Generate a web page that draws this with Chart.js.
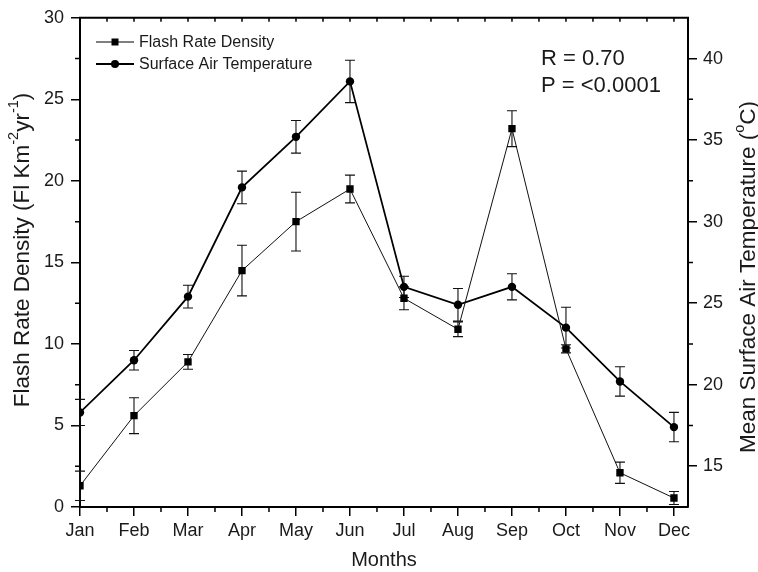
<!DOCTYPE html>
<html>
<head>
<meta charset="utf-8">
<script src="https://cdn.jsdelivr.net/npm/chart.js@4.4.0/dist/chart.umd.min.js"></script>
<style>
  body { margin: 0; background: #fff; }
  canvas { display: block; }
</style>
</head>
<body>
<canvas id="chart" width="758" height="572"></canvas>
<script>
const months = ['Jan', 'Feb', 'Mar', 'Apr', 'May', 'Jun', 'Jul', 'Aug', 'Sep', 'Oct', 'Nov', 'Dec'];
const flashRate = [1.3, 5.6, 8.9, 14.5, 17.5, 19.5, 12.8, 10.9, 23.2, 9.7, 2.1, 0.55];
const flashErr = [0.9, 1.1, 0.45, 1.55, 1.8, 0.85, 0.7, 0.45, 1.1, 0.25, 0.65, 0.4];
const airTemp = [18.3, 21.5, 25.4, 32.1, 35.2, 38.6, 26.0, 24.9, 26.0, 23.5, 20.2, 17.4];
const tempErr = [0.8, 0.6, 0.7, 1.0, 1.0, 1.3, 0.65, 1.0, 0.8, 1.25, 0.9, 0.9];
const leftTicks = [0, 5, 10, 15, 20, 25, 30];
const rightTicks = [15, 20, 25, 30, 35, 40];

const FONT = "'Liberation Sans', Arial, sans-serif";
const TXT = '#1a1a1a';

// text made of [string, isSuperscript] parts, drawn rotated -90deg and centred on (cx, cy)
function drawVerticalTitle(ctx, parts, cx, cy) {
  const big = '22.5px ' + FONT, small = '14.5px ' + FONT;
  let total = 0;
  parts.forEach(([t, sup]) => { ctx.font = sup ? small : big; total += ctx.measureText(t).width; });
  ctx.save();
  ctx.translate(cx, cy);
  ctx.rotate(-Math.PI / 2);
  ctx.fillStyle = TXT;
  ctx.textBaseline = 'middle';
  ctx.textAlign = 'left';
  let pos = -total / 2;
  parts.forEach(([t, sup]) => {
    ctx.font = sup ? small : big;
    ctx.fillText(t, pos, sup ? -9 : 0);
    pos += ctx.measureText(t).width;
  });
  ctx.restore();
}

// error bars, drawn under the markers
const errorBars = {
  id: 'errorBars',
  beforeDatasetsDraw(chart) {
    const ctx = chart.ctx;
    const x = chart.scales.x;
    const sets = [[flashRate, flashErr, chart.scales.y], [airTemp, tempErr, chart.scales.y2]];
    ctx.save();
    ctx.strokeStyle = '#111';
    ctx.lineWidth = 1.1;
    sets.forEach(([vals, errs, ys]) => {
      vals.forEach((v, i) => {
        const px = x.getPixelForValue(i);
        const top = ys.getPixelForValue(v + errs[i]);
        const bot = ys.getPixelForValue(v - errs[i]);
        ctx.beginPath();
        ctx.moveTo(px, top); ctx.lineTo(px, bot);
        ctx.moveTo(px - 5, top); ctx.lineTo(px + 5, top);
        ctx.moveTo(px - 5, bot); ctx.lineTo(px + 5, bot);
        ctx.stroke();
      });
    });
    ctx.restore();
  }
};

// minor ticks, top frame, legend, axis titles and stats text
const decorations = {
  id: 'decorations',
  afterDraw(chart) {
    const ctx = chart.ctx;
    const a = chart.chartArea;
    const x = chart.scales.x, y = chart.scales.y, y2 = chart.scales.y2;
    ctx.save();
    ctx.strokeStyle = '#000';
    ctx.lineWidth = 2;
    ctx.beginPath();
    ctx.moveTo(a.left - 1, a.top); ctx.lineTo(a.right + 1, a.top);
    ctx.stroke();

    ctx.lineWidth = 1.5;
    ctx.beginPath();
    for (let v = 2.5; v < 30; v += 5) {
      const py = y.getPixelForValue(v);
      ctx.moveTo(a.left, py); ctx.lineTo(a.left - 5, py);
    }
    for (let v = 17.5; v < 42.5; v += 5) {
      const py = y2.getPixelForValue(v);
      ctx.moveTo(a.right, py); ctx.lineTo(a.right + 5, py);
    }
    for (let v = 0.5; v < 11.26; v += 1) {
      const px = x.getPixelForValue(v);
      ctx.moveTo(px, a.bottom); ctx.lineTo(px, a.bottom + 5);
    }
    for (let v = 0.5; v < 11.26; v += 0.5) {
      const px = x.getPixelForValue(v);
      ctx.moveTo(px, a.top); ctx.lineTo(px, a.top + 4);
    }
    ctx.stroke();

    // legend
    const rows = [
      { label: 'Flash Rate Density', y: 42, lw: 1, shape: 'rect' },
      { label: 'Surface Air Temperature', y: 64, lw: 1.8, shape: 'circle' }
    ];
    ctx.fillStyle = '#000';
    rows.forEach(r => {
      ctx.lineWidth = r.lw;
      ctx.beginPath();
      ctx.moveTo(96, r.y); ctx.lineTo(134, r.y);
      ctx.stroke();
      ctx.beginPath();
      if (r.shape === 'rect') ctx.rect(111.5, r.y - 3.5, 7, 7);
      else ctx.arc(115, r.y, 4, 0, Math.PI * 2);
      ctx.fill();
    });
    ctx.fillStyle = TXT;
    ctx.font = '16px ' + FONT;
    ctx.textBaseline = 'middle';
    ctx.textAlign = 'left';
    rows.forEach(r => ctx.fillText(r.label, 139, r.y + 1));

    ctx.font = '22px ' + FONT;
    ctx.fillText('R = 0.70', 541, 59);
    ctx.fillText('P = <0.0001', 541, 86);
    ctx.restore();

    drawVerticalTitle(ctx, [['Flash Rate Density (Fl Km', false], ['-2', true], ['yr', false], ['-1', true], [')', false]], 23, 250);
    drawVerticalTitle(ctx, [['Mean Surface Air Temperature (', false], ['o', true], ['C)', false]], 749, 277);
  }
};

new Chart(document.getElementById('chart'), {
  type: 'line',
  data: {
    datasets: [
      {
        label: 'Flash Rate Density',
        data: flashRate.map((v, i) => ({ x: i, y: v })),
        yAxisID: 'y',
        borderColor: '#111',
        borderWidth: 1,
        pointStyle: 'rect',
        pointRadius: 5.2,
        pointBackgroundColor: '#000',
        pointBorderWidth: 0,
        tension: 0
      },
      {
        label: 'Surface Air Temperature',
        data: airTemp.map((v, i) => ({ x: i, y: v })),
        yAxisID: 'y2',
        borderColor: '#000',
        borderWidth: 1.8,
        pointStyle: 'circle',
        pointRadius: 4.2,
        pointBackgroundColor: '#000',
        pointBorderWidth: 0,
        tension: 0
      }
    ]
  },
  options: {
    responsive: false,
    animation: false,
    layout: { padding: { top: 17, left: 0, right: 0, bottom: 0 } },
    plugins: { legend: { display: false }, tooltip: { enabled: false } },
    scales: {
      x: {
        type: 'linear',
        min: 0,
        max: 11.26,
        afterBuildTicks: s => { s.ticks = months.map((m, i) => ({ value: i })); },
        afterFit: s => { s.height = 65; },
        ticks: {
          callback: v => months[v],
          color: TXT,
          font: { family: FONT, size: 18 },
          padding: 4,
          maxRotation: 0,
          autoSkip: false
        },
        grid: { drawOnChartArea: false, drawTicks: true, tickLength: 9, color: '#000', lineWidth: 1.5 },
        border: { display: true, color: '#000', width: 2 },
        title: {
          display: true,
          text: 'Months',
          color: TXT,
          font: { family: FONT, size: 20 },
          padding: 0
        }
      },
      y: {
        position: 'left',
        min: 0,
        max: 30,
        afterBuildTicks: s => { s.ticks = leftTicks.map(v => ({ value: v })); },
        afterFit: s => { s.width = 80; },
        ticks: { color: TXT, font: { family: FONT, size: 18 }, padding: 7 },
        grid: { drawOnChartArea: false, drawTicks: true, tickLength: 9, color: '#000', lineWidth: 1.5 },
        border: { display: true, color: '#000', width: 2 }
      },
      y2: {
        position: 'right',
        min: 12.5,
        max: 42.5,
        afterBuildTicks: s => { s.ticks = rightTicks.map(v => ({ value: v })); },
        afterFit: s => { s.width = 70; },
        ticks: { color: TXT, font: { family: FONT, size: 18 }, padding: 6 },
        grid: { drawOnChartArea: false, drawTicks: true, tickLength: 9, color: '#000', lineWidth: 1.5 },
        border: { display: true, color: '#000', width: 2 }
      }
    }
  },
  plugins: [errorBars, decorations]
});
</script>
</body>
</html>
